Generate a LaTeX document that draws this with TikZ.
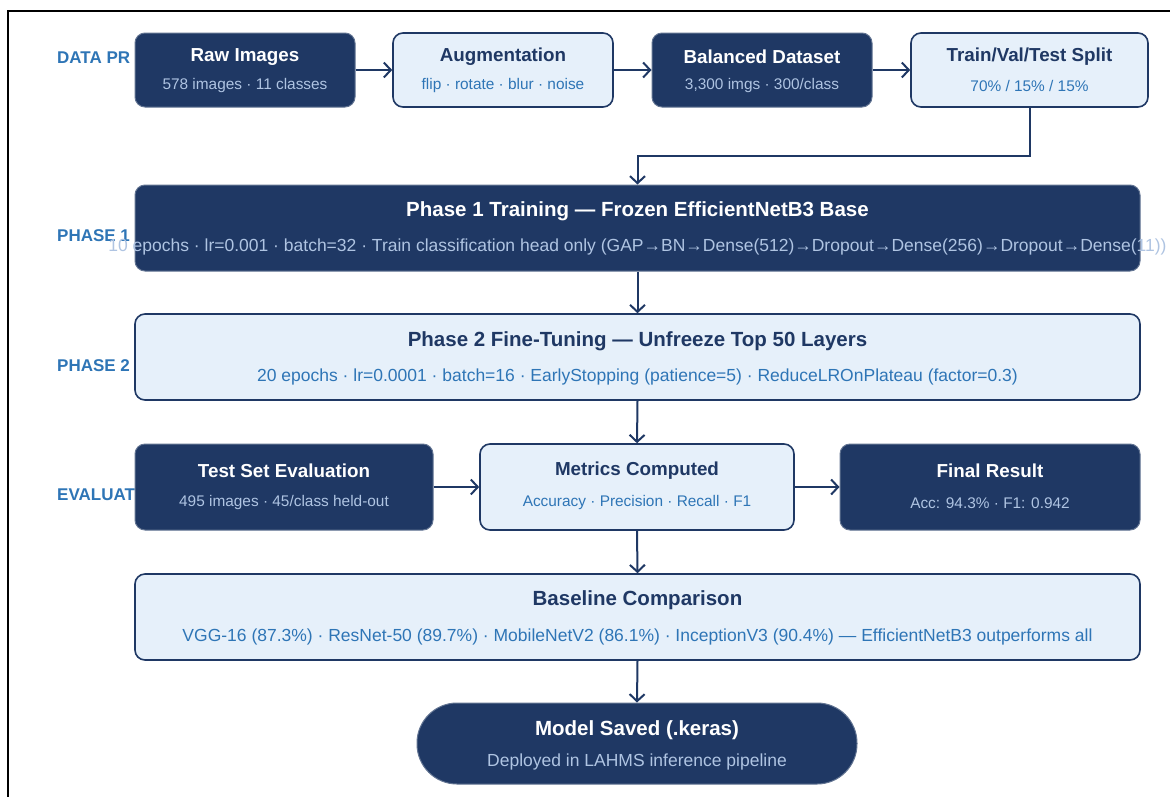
\documentclass[tikz,border=0pt]{standalone}
\usepackage{fontspec}
\setmainfont{Liberation Sans}
\usetikzlibrary{arrows.meta,calc}
\definecolor{navy}{HTML}{1F3864}
\definecolor{lightfill}{HTML}{E6F0FA}
\definecolor{subblue}{HTML}{2E75B6}
\definecolor{sublight}{HTML}{AFC4E2}
\definecolor{lanecol}{HTML}{2E75B6}
\tikzset{
  darkbox/.style={draw=navy!70!white, line width=1pt, fill=navy, rounded corners=10pt, inner sep=0pt},
  lightbox/.style={draw=navy, line width=1.6pt, fill=lightfill, rounded corners=10pt, inner sep=0pt},
  dtitle/.style={text=white, font=\bfseries\fontsize{18.8}{20}\selectfont, inner sep=0pt},
  ltitle/.style={text=navy, font=\bfseries\fontsize{18.8}{20}\selectfont, inner sep=0pt},
  dsub/.style={text=sublight, font=\fontsize{15.4}{17}\selectfont, inner sep=0pt},
  lsub/.style={text=subblue, font=\fontsize{15.4}{17}\selectfont, inner sep=0pt},
  bigtitle/.style={font=\bfseries\fontsize{20.5}{22}\selectfont},
  bigsub/.style={font=\fontsize{17.5}{19}\selectfont},
  lane/.style={text=lanecol, font=\bfseries\fontsize{17}{19}\selectfont, anchor=west, inner sep=0pt},
  arr/.style={draw=navy, line width=2pt, -{Straight Barb[length=7pt,width=15pt,line width=2pt]}},
}
\begin{document}
\begin{tikzpicture}[x=1pt,y=-1pt]
\useasboundingbox (0,0) rectangle (1170,796);
\fill[white] (0,0) rectangle (1170,796);
% outer frame (partially visible)
\draw[black, line width=2pt] (8,800) -- (8,11) -- (1172,11);

% lane labels (drawn first, partly covered by boxes)
\node[lane] (l1) at (57,58) {DATA PR};
\node[lane] (l2) at (57,236) {PHASE 1};
\node[lane] (l3) at (57,366) {PHASE 2};
\node[lane] (l4) at (57,495) {EVALUAT};

% row 1
\node[darkbox, minimum width=220pt, minimum height=74pt] (raw) at (245,70) {};
\node[lightbox, minimum width=220pt, minimum height=74pt] (aug) at (503,70) {};
\node[darkbox, minimum width=220pt, minimum height=74pt] (bal) at (762,70) {};
\node[lightbox, minimum width=237pt, minimum height=74pt] (split) at (1029.5,70) {};

\node[dtitle] (rawT) at ($(raw.center)+(0,-13)$) {Raw Images};
\node[dsub] (rawS) at ($(raw.center)+(0,16)$) {578 images · 11 classes};
\node[ltitle] (augT) at ($(aug.center)+(0,-13)$) {Augmentation};
\node[lsub] (augS) at ($(aug.center)+(0,16)$) {flip · rotate · blur · noise};
\node[dtitle] (balT) at ($(bal.center)+(0,-13)$) {Balanced Dataset};
\node[dsub] (balS) at ($(bal.center)+(0,16)$) {3,300 imgs · 300/class};
\node[ltitle] (splitT) at ($(split.center)+(0,-13)$) {Train/Val/Test Split};
\node[lsub] (splitS) at ($(split.center)+(0,16)$) {70\% / 15\% / 15\%};

% phase 1
\node[darkbox, minimum width=1005pt, minimum height=86pt] (ph1) at (637.5,228) {};
\node[dtitle, bigtitle] (ph1T) at ($(ph1.center)+(0,-17)$) {Phase 1 Training — Frozen EfficientNetB3 Base};
\node[dsub, bigsub] (ph1S) at ($(ph1.center)+(0,19)$) {10 epochs · lr=0.001 · batch=32 · Train classification head only (GAP→BN→Dense(512)→Dropout→Dense(256)→Dropout→Dense(11))};

% phase 2
\node[lightbox, minimum width=1005pt, minimum height=86pt] (ph2) at (637.5,357) {};
\node[ltitle, bigtitle] (ph2T) at ($(ph2.center)+(0,-16)$) {Phase 2 Fine-Tuning — Unfreeze Top 50 Layers};
\node[lsub, bigsub] (ph2S) at ($(ph2.center)+(0,20)$) {20 epochs · lr=0.0001 · batch=16 · EarlyStopping (patience=5) · ReduceLROnPlateau (factor=0.3)};

% evaluation row
\node[darkbox, minimum width=298pt, minimum height=86pt] (test) at (284,487) {};
\node[lightbox, minimum width=314pt, minimum height=86pt] (met) at (637,487) {};
\node[darkbox, minimum width=300pt, minimum height=86pt] (fin) at (990,487) {};
\node[dtitle] (testT) at ($(test.center)+(0,-16)$) {Test Set Evaluation};
\node[dsub] (testS) at ($(test.center)+(0,16)$) {495 images · 45/class held-out};
\node[ltitle] (metT) at ($(met.center)+(0,-16)$) {Metrics Computed};
\node[lsub] (metS) at ($(met.center)+(0,16)$) {Accuracy · Precision · Recall · F1};
\node[dtitle] (finT) at ($(fin.center)+(0,-16)$) {Final Result};
\node[dsub] (finS) at ($(fin.center)+(0,16)$) {Acc: 94.3\% · F1: 0.942};

% baseline
\node[lightbox, minimum width=1005pt, minimum height=86pt] (base) at (637.5,617) {};
\node[ltitle, bigtitle] (baseT) at ($(base.center)+(0,-17)$) {Baseline Comparison};
\node[lsub, bigsub] (baseS) at ($(base.center)+(0,20)$) {VGG-16 (87.3\%) · ResNet-50 (89.7\%) · MobileNetV2 (86.1\%) · InceptionV3 (90.4\%) — EfficientNetB3 outperforms all};

% model saved
\node[darkbox, rounded corners=40pt, minimum width=440pt, minimum height=81pt] (model) at (637,743.5) {};
\node[dtitle, bigtitle] (modelT) at ($(model.center)+(0,-13)$) {Model Saved (.keras)};
\node[dsub, bigsub] (modelS) at ($(model.center)+(0,18)$) {Deployed in LAHMS inference pipeline};

% connectors
\coordinate (bend) at (0,156);
\draw[arr] (raw.east) -- (aug.west);
\draw[arr] (aug.east) -- (bal.west);
\draw[arr] (bal.east) -- (split.west);
\draw[arr] (split.south) -- (split.south |- bend) -| (ph1.north);
\draw[arr] (ph1.south) -- (ph2.north);
\draw[arr] (ph2.south) -- (met.north);
\draw[arr] (test.east) -- (met.west);
\draw[arr] (met.east) -- (fin.west);
\draw[arr] (met.south) -- (base.north);
\draw[arr] (base.south) -- (model.north);
\end{tikzpicture}
\end{document}
